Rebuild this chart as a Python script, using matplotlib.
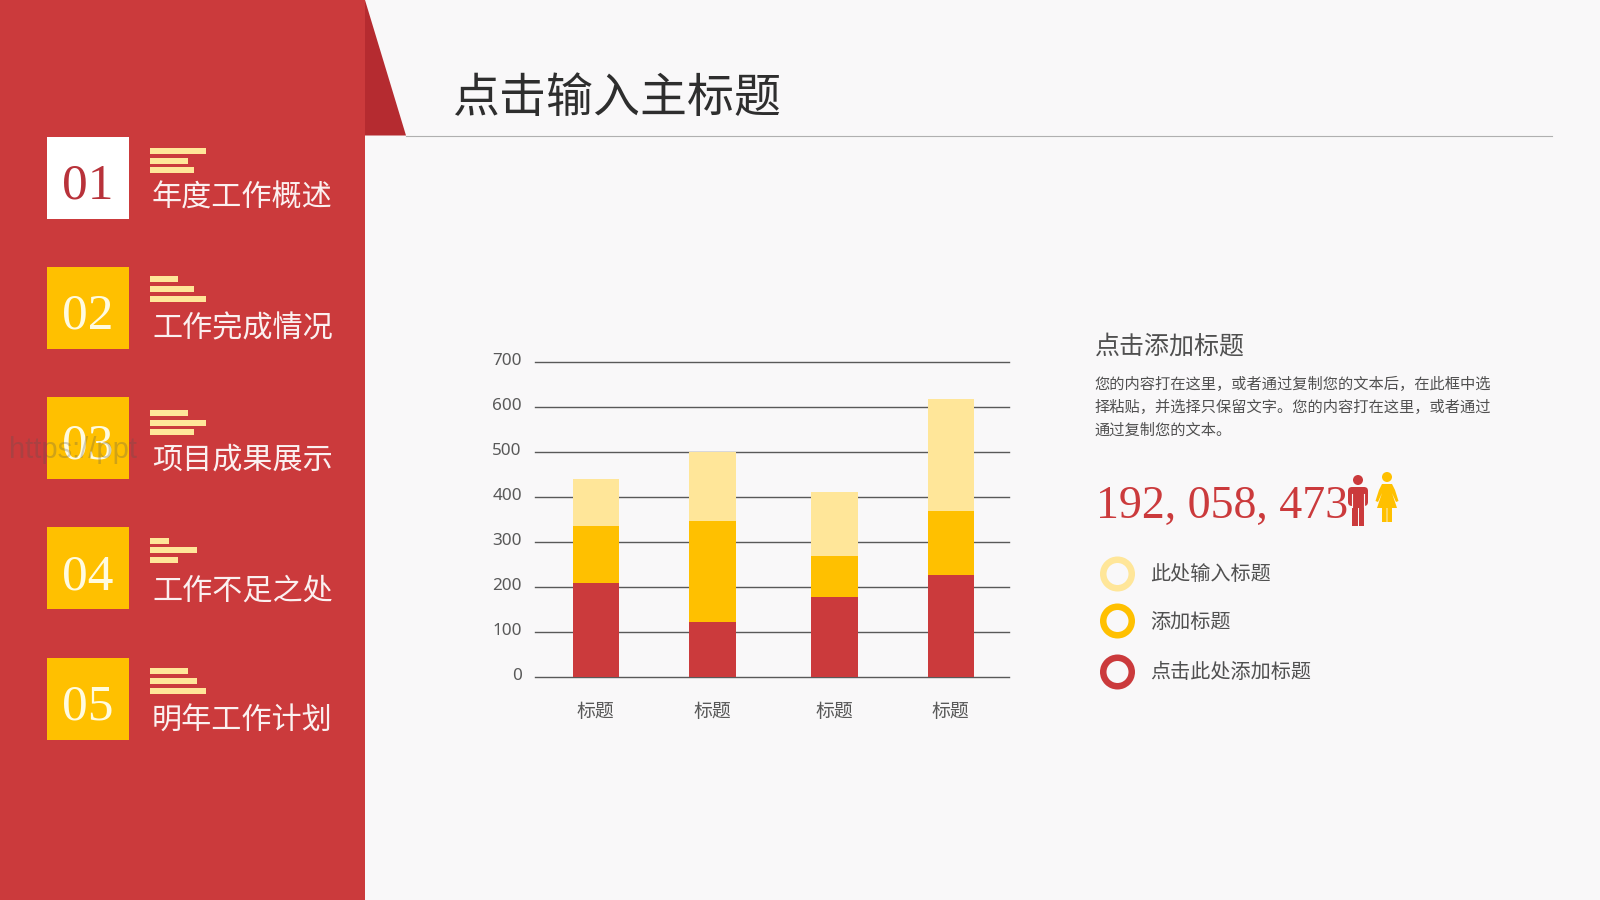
import matplotlib
matplotlib.use("Agg")
import matplotlib.pyplot as plt
from matplotlib.patches import Rectangle, Polygon, Circle, Wedge, FancyBboxPatch
from matplotlib.transforms import ScaledTranslation

CJK = ['Noto Sans CJK SC', 'DejaVu Sans']
plt.rcParams['font.family'] = CJK

categories = ['标题', '标题', '标题', '标题']
red_values = [210, 123, 177, 226]
orange_values = [126, 224, 93, 143]
light_values = [104, 153, 142, 249]
y_ticks = [0, 100, 200, 300, 400, 500, 600, 700]

menu_numbers = ['01', '02', '03', '04', '05']
menu_labels = ['年度工作概述', '工作完成情况', '项目成果展示', '工作不足之处', '明年工作计划']
legend_labels = ['此处输入标题', '添加标题', '点击此处添加标题']
para_lines = ['您的内容打在这里，或者通过复制您的文本后，在此框中选',
              '择粘贴，并选择只保留文字。您的内容打在这里，或者通过',
              '通过复制您的文本。']

RED = '#CB3A3C'
DARK = '#B52B30'
ORANGE = '#FFC000'
LIGHT = '#FFE699'
BG = '#F9F8F9'
GREY = '#505050'

W, H = 1600, 900
fig = plt.figure(figsize=(16, 9), dpi=100, facecolor=BG)

# pixel-space overlay for slide decoration
bg = fig.add_axes([0, 0, 1, 1])
bg.set_xlim(0, W)
bg.set_ylim(H, 0)
bg.axis('off')

bg.add_patch(Rectangle((0, 0), 365, H, color=RED, lw=0))
bg.add_patch(Polygon([(365, 0), (406, 135.5), (365, 135.5)], color=DARK, lw=0))
bg.plot([406, 1552], [136, 136], color='#B0B0B0', lw=0.8)
bg.text(452, 99, '点击输入主标题', fontsize=33.8, color='#2E2E2E', va='center', ha='left')

box_tops = [137, 267, 397, 527, 658]
num_centres = [186, 316, 446, 577, 707]
label_centres = [198, 329, 460, 591, 721]
stripes = [
    [(148, 206), (158, 188), (167, 194)],
    [(276, 178), (286, 194), (296, 206)],
    [(410, 188), (420, 206), (429, 194)],
    [(538, 169), (547, 197), (557, 178)],
    [(668, 188), (678, 197), (688, 206)],
]
for i in range(5):
    first = i == 0
    bg.add_patch(Rectangle((47, box_tops[i]), 82, 82, lw=0, color='white' if first else ORANGE))
    bg.text(87.5, num_centres[i], menu_numbers[i], fontsize=37, family='Liberation Serif',
            color='#B8323A' if first else '#FFFBE0', ha='center', va='center')
    for y, x1 in stripes[i]:
        bg.add_patch(Rectangle((150, y), x1 - 150, 6, lw=0, color=LIGHT))
    bg.text(152, label_centres[i], menu_labels[i], fontsize=21.7, color='#FBF0F0',
            ha='left', va='center')

bg.text(9, 450, 'https://ppt', fontsize=21, family='Liberation Sans', color='#555555',
        alpha=0.28, ha='left', va='center', zorder=5)

# right-hand copy
bg.text(1094.5, 347, '点击添加标题', fontsize=18, color=GREY, ha='left', va='center')
for y, line in zip([384, 407, 430], para_lines):
    bg.text(1094, y, line, fontsize=10.98, color=GREY, ha='left', va='center')
bg.text(1096, 507, '192, 058, 473', fontsize=33, family='Liberation Serif', color=RED,
        ha='left', va='center')

# man icon
bg.add_patch(Circle((1358, 480), 5, color=RED, lw=0))
bg.add_patch(FancyBboxPatch((1348, 487), 20, 19, boxstyle='round,pad=0,rounding_size=4', color=RED, lw=0))
bg.add_patch(Polygon([(1352, 500), (1364, 500), (1364, 526), (1358.5, 526), (1358.5, 508),
                      (1357.5, 508), (1357.5, 526), (1352, 526)], color=RED, lw=0))
bg.plot([1351.8, 1351.8], [494, 506.5], color=BG, lw=0.8)
bg.plot([1364.2, 1364.2], [494, 506.5], color=BG, lw=0.8)
# woman icon
bg.add_patch(Circle((1387, 477), 5, color=ORANGE, lw=0))
bg.add_patch(Polygon([(1382, 484), (1392, 484), (1395, 490), (1398.5, 501), (1396, 502), (1392, 493),
                      (1397, 508), (1392, 508), (1392, 522), (1387.4, 522), (1387.4, 508), (1386.6, 508),
                      (1386.6, 522), (1382, 522), (1382, 508), (1377, 508), (1382, 493), (1378, 502),
                      (1375.5, 501), (1379, 490)], color=ORANGE, lw=0))

# legend rings
ring_colors = [LIGHT, ORANGE, RED]
ring_y = [574, 621, 672]
ring_text_y = [575, 622, 673]
for c, y, ty, lab in zip(ring_colors, ring_y, ring_text_y, legend_labels):
    bg.add_patch(Wedge((1117.5, y), 17.5, 0, 360, width=6.5, color=c, lw=0))
    bg.text(1150, ty, lab, fontsize=14.5, color=GREY, ha='left', va='center')

# chart
x0, x1, ytop, ybot = 535, 1008.5, 362, 677
ax = fig.add_axes([x0 / W, 1 - ybot / H, (x1 - x0) / W, (ybot - ytop) / H], facecolor='none')
pos = [0.013, 1.0, 2.03, 3.013]
bottom2 = [a for a in red_values]
bottom3 = [a + b for a, b in zip(red_values, orange_values)]
bw = 0.39
ax.bar(pos, red_values, bw, color=RED, zorder=3)
ax.bar(pos, orange_values, bw, bottom=bottom2, color=ORANGE, zorder=3)
ax.bar(pos, light_values, bw, bottom=bottom3, color=LIGHT, zorder=3)
ax.set_xlim(-0.5, 3.5)
ax.set_ylim(0, 700)
ax.set_yticks(y_ticks)
ax.set_xticks(pos, categories)
ax.grid(axis='y', color='#595959', lw=1, zorder=1)
for g in ax.get_ygridlines():
    g.set_clip_on(False)
ax.set_axisbelow(True)
for s in ax.spines.values():
    s.set_visible(False)
ax.tick_params(axis='both', length=0, colors='#595959')
ax.tick_params(axis='x', pad=17.5, labelsize=13.6)
ax.tick_params(axis='y', pad=9.5, labelsize=12.3)
up = ScaledTranslation(0, 1 / 100, fig.dpi_scale_trans)
for t in ax.get_yticklabels():
    t.set_family(['Noto Sans', 'DejaVu Sans'])
    t.set_va('center')
    t.set_transform(t.get_transform() + up)

fig.savefig('out.png', dpi=100, facecolor=BG)
